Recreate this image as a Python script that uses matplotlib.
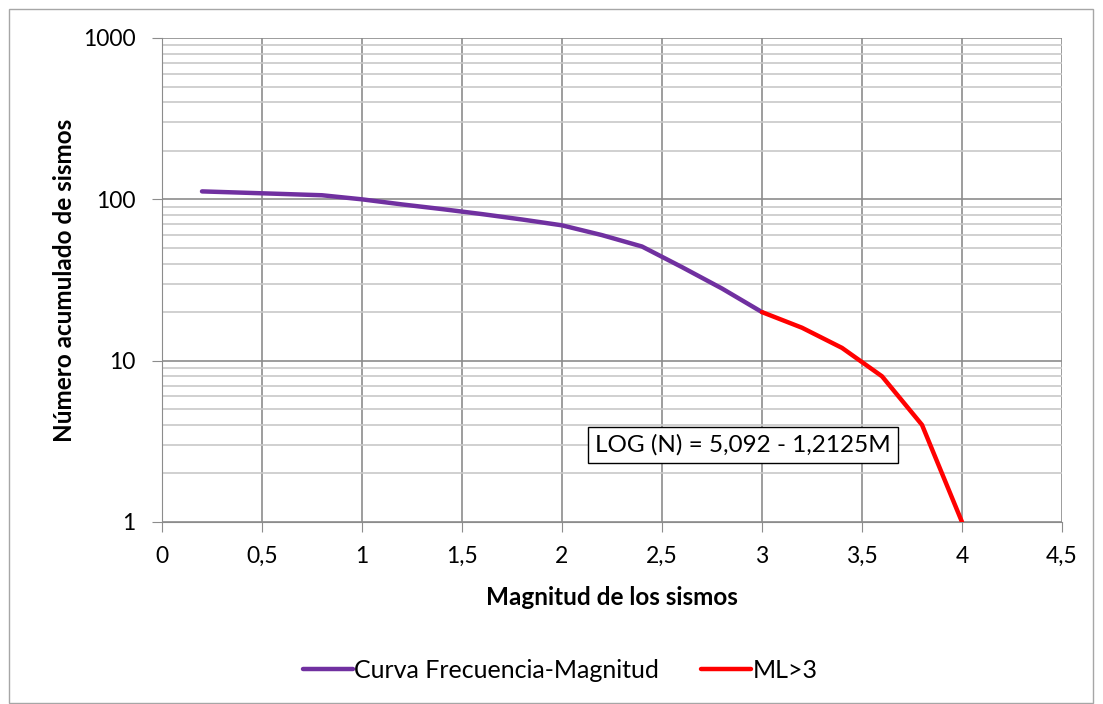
import matplotlib.pyplot as plt
from matplotlib.patches import Rectangle
from matplotlib.ticker import FixedLocator, LogLocator, NullFormatter, FuncFormatter

# ---------- datos ----------
MAG_CURVA = [0.2, 0.4, 0.6, 0.8, 1.0, 1.2, 1.4, 1.6, 1.8, 2.0, 2.2, 2.4, 2.6, 2.8, 3.0]
N_CURVA   = [112, 110, 108, 106, 100, 93, 87, 81, 75, 69, 60, 51, 38, 28, 20]

MAG_ML3 = [3.0, 3.2, 3.4, 3.6, 3.8, 4.0]
N_ML3   = [20, 16, 12, 8, 4, 1]

X_TICKS = [0, 0.5, 1, 1.5, 2, 2.5, 3, 3.5, 4, 4.5]
Y_TICKS = [1, 10, 100, 1000]

ECUACION = "LOG (N) = 5,092 - 1,2125M"

plt.rcParams['font.family'] = ['Lato', 'DejaVu Sans']

fig = plt.figure(figsize=(11.03, 7.04), dpi=100)
ax = fig.add_axes([162/1103, 1 - 522/704, 900/1103, 484/704])

# borde exterior del gráfico
fig.patches.append(Rectangle((9/1103, 1/704), 1084/1103, 694/704, transform=fig.transFigure,
                             fill=False, edgecolor='#a6a6a6', linewidth=1))

ax.plot(MAG_CURVA, N_CURVA, color='#7030A0', linewidth=3.2, solid_capstyle='round',
        label='Curva Frecuencia-Magnitud', zorder=3)
ax.plot(MAG_ML3, N_ML3, color='#FF0000', linewidth=3.2, solid_capstyle='round',
        label='ML>3', zorder=4)

ax.set_yscale('log')
ax.set_xlim(0, 4.5)
ax.set_ylim(1, 1000)
ax.xaxis.set_major_locator(FixedLocator(X_TICKS))
ax.xaxis.set_major_formatter(FuncFormatter(lambda v, p: f"{v:g}".replace('.', ',')))
ax.yaxis.set_major_locator(FixedLocator(Y_TICKS))
ax.yaxis.set_major_formatter(FuncFormatter(lambda v, p: f"{v:g}"))
ax.yaxis.set_minor_locator(LogLocator(base=10, subs=range(2, 10)))
ax.yaxis.set_minor_formatter(NullFormatter())

ax.grid(True, which='major', axis='both', color='#8c8c8c', linewidth=1.2)
ax.grid(True, which='minor', axis='y', color='#c8c8c8', linewidth=1.2)
ax.set_axisbelow(True)

for s in ['top', 'right']:
    ax.spines[s].set_visible(False)
ax.spines['left'].set_color('#8c8c8c')
ax.spines['bottom'].set_color('#8c8c8c')
ax.tick_params(axis='both', which='major', length=7, color='#8c8c8c', labelsize=16.5)
ax.tick_params(axis='y', which='major', pad=12)
ax.tick_params(axis='x', which='major', pad=10)
ax.tick_params(axis='y', which='minor', length=0)

ax.set_xlabel("Magnitud de los sismos", fontsize=17.5, fontweight='bold', labelpad=14)
ax.set_ylabel("Número acumulado de sismos", fontsize=17.5, fontweight='bold', labelpad=5)

ax.text(2.905, 3.0, ECUACION, fontsize=17.5, ha='center', va='center',
        bbox=dict(boxstyle='square,pad=0.3', facecolor='white', edgecolor='black', linewidth=1),
        zorder=5)

fig.legend(loc='center', bbox_to_anchor=(560/1103, 1 - 670/704), ncol=2, frameon=False,
           fontsize=18, handlelength=2.0, columnspacing=1.7, handletextpad=0.05)

fig.savefig("out.png", dpi=100)
